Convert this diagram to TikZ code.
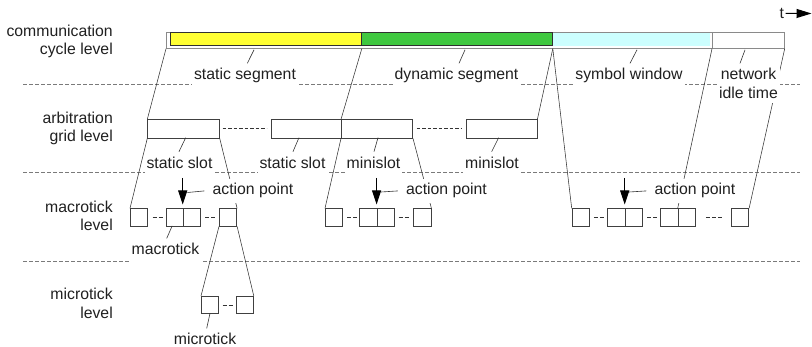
\documentclass[tikz,border=0pt]{standalone}
\usepackage{fontspec}
\setmainfont{Liberation Sans}
\usetikzlibrary{arrows.meta,calc}
\definecolor{segyellow}{HTML}{FFFF33}
\definecolor{seggreen}{HTML}{40C840}
\definecolor{segcyan}{HTML}{CCFFFF}
\definecolor{barline}{HTML}{303030}
\definecolor{framegray}{HTML}{8A8A8A}
\definecolor{sepgray}{HTML}{7A7A7A}
\definecolor{inkgray}{HTML}{202020}
\begin{document}
\begin{tikzpicture}[x=1pt,y=-1pt,
  txt/.style={font=\fontsize{15.8}{18.3}\selectfont, text=inkgray},
  lvl/.style={txt, align=right, anchor=base east, inner sep=0pt},
  lbl/.style={txt, fill=white, inner xsep=2pt, inner ysep=5pt, anchor=base},
  frame/.style={draw=framegray, line width=0.7pt, inner sep=0pt, anchor=north west},
  seg/.style={draw=barline, line width=0.8pt, inner sep=0pt, anchor=north west, minimum height=12.8pt},
  abox/.style={draw=black!75, line width=0.7pt, inner sep=0pt, anchor=north west, minimum height=18.4pt},
  mbox/.style={draw=black!75, line width=0.7pt, inner sep=0pt, anchor=north west, minimum width=17.4pt, minimum height=17.4pt},
  sep/.style={draw=sepgray, line width=0.8pt, dash pattern=on 4pt off 2pt},
  gapdash/.style={draw=black!80, line width=0.8pt, dash pattern=on 4pt off 2pt},
  griddash/.style={draw=black!80, line width=0.8pt, dash pattern=on 3.5pt off 2pt},
  link/.style={draw=black!80, line width=0.55pt},
  ptr/.style={draw=black!80, line width=0.6pt},
  aparrow/.style={draw=black, line width=1pt, -{Triangle[length=14pt,width=9pt]}},
  tarrow/.style={draw=black, line width=1pt, -{Triangle[length=15pt,width=9pt]}},
]
\useasboundingbox (0,0) rectangle (812,347);

% ---------- separators ----------
\coordinate (s1l) at (23,84);    \coordinate (s1r) at (800,84);
\coordinate (s2l) at (23,172.3); \coordinate (s2r) at (800,172.3);
\coordinate (s3l) at (23,261.7); \coordinate (s3r) at (800,261.7);
\draw[sep] (s1l) -- (s1r);
\draw[sep] (s2l) -- (s2r);
\draw[sep] (s3l) -- (s3r);

% ---------- level names (anchor = baseline of last line) ----------
\node[lvl] (lv1) at (113,55) {communication\\cycle level};
\node[lvl] (lv2) at (113,141.6) {arbitration\\grid level};
\node[lvl] (lv3) at (113,231) {macrotick\\level};
\node[lvl] (lv4) at (113,318.3) {microtick\\level};

% ---------- time arrow ----------
\node[txt, anchor=base, inner sep=0pt] (tlab) at (781.7,18.5) {t};
\coordinate (tend) at (811.5,13.5);
\draw[tarrow] ([xshift=1.5pt]tlab.east) -- (tend);

% ---------- communication cycle ----------
\node[frame, minimum width=618pt, minimum height=16.2pt] (cyc) at (166,31.8) {};
\node[inner sep=0pt, fill=segcyan, anchor=north west, minimum width=157.5pt, minimum height=12.8pt] (cs) at (552.5,32.6) {};
\node[seg, fill=segyellow, minimum width=191.5pt] (ys) at (169.5,32.4) {};
\node[seg, fill=seggreen, minimum width=191pt] (gs) at (361,32.4) {};
\node[frame, minimum width=72pt, minimum height=16.2pt] (nit) at (712,31.8) {};

% ---------- arbitration grid ----------
\node[abox, minimum width=71.7pt] (a1) at (147.3,119.3) {};
\node[abox, minimum width=70.3pt] (a2) at (270.7,119.3) {};
\node[abox, minimum width=71.3pt] (a3) at (341,119.3) {};
\node[abox, minimum width=71pt] (a4) at (465.7,119.3) {};
\draw[griddash] ([xshift=3pt]a1.east) -- ([xshift=-4pt]a2.west);
\draw[griddash] ([xshift=3.5pt]a3.east) -- ([xshift=-5pt]a4.west);

% ---------- macroticks ----------
\node[mbox] (m1a) at (130,208.3) {};
\node[mbox] (m1b) at (165.6,208.3) {};
\node[mbox] (m1c) at (183,208.3) {};
\node[mbox] (m1d) at (219,208.3) {};
\node[mbox] (m2a) at (325,208.3) {};
\node[mbox] (m2b) at (359.2,208.3) {};
\node[mbox] (m2c) at (376.6,208.3) {};
\node[mbox] (m2d) at (413.3,208.3) {};
\node[mbox] (m3a) at (571.7,208.3) {};
\node[mbox] (m3b) at (607.3,208.3) {};
\node[mbox] (m3c) at (624.7,208.3) {};
\node[mbox] (m3d) at (660.3,208.3) {};
\node[mbox] (m3e) at (677.7,208.3) {};
\node[mbox] (m3f) at (731,208.3) {};
\draw[gapdash] ([xshift=4.5pt]m1a.east) -- ++(10,0);
\draw[gapdash] ([xshift=4pt]m1c.east) -- ++(10,0);
\draw[gapdash] ([xshift=4pt]m2a.east) -- ++(10,0);
\draw[gapdash] ([xshift=4pt]m2c.east) -- ++(10,0);
\draw[gapdash] ([xshift=4pt]m3a.east) -- ++(10,0);
\draw[gapdash] ([xshift=4.5pt]m3c.east) -- ++(10,0);
\draw[gapdash] ([xshift=10pt]m3e.east) -- ++(16,0);

% ---------- microticks ----------
\node[mbox] (u1) at (201,296) {};
\node[mbox] (u2) at (235.7,296) {};
\draw[gapdash] ([xshift=3.6pt]u1.east) -- ++(10,0);

% ---------- expansion lines ----------
\draw[link] (cyc.south west) -- (a1.north west);
\draw[link] (ys.south east |- cyc.south) -- (a3.north west);
\draw[link] (gs.south east |- cyc.south) -- (a4.north east);
\draw[link] (gs.south east |- cyc.south) -- (m3a.north west);
\draw[link] (nit.south west) -- (m3e.north west);
\draw[link] (nit.south east) -- (m3f.north east);
\draw[link] (a1.south west) -- (m1a.north west);
\draw[link] (a1.south east) -- (m1d.north east);
\draw[link] (a3.south west) -- (m2a.north west);
\draw[link] (a3.south east) -- (m2d.north east);
\draw[link] (m1d.south west) -- (u1.north west);
\draw[link] (m1d.south east) -- (u2.north east);

% ---------- labels ----------
\node[lbl] (lss) at (245,80) {static segment};
\node[lbl] (lds) at (456.5,80) {dynamic segment};
\node[lbl] (lsw) at (629,80) {symbol window};
\node[lbl, align=center] (lnit) at (748.5,98.3) {network\\idle time};
\node[lbl] (lst1) at (179.5,168.3) {static slot};
\node[lbl] (lst2) at (292.5,168.3) {static slot};
\node[lbl] (lms1) at (373.5,168.3) {minislot};
\node[lbl] (lms2) at (492,168.3) {minislot};
\node[lbl] (lap1) at (253,195) {action point};
\node[lbl] (lap2) at (446.5,195) {action point};
\node[lbl] (lap3) at (695,195) {action point};
\node[lbl, inner ysep=8pt] (lmac) at (165.5,255) {macrotick};
\node[lbl] (lmic) at (205,345) {microtick};

% ---------- pointers ----------
\draw[ptr] ([xshift=2.3pt]lss.north) -- ++(6.7,-13.5);
\draw[ptr] ([xshift=2.5pt]lds.north) -- ++(6,-13.5);
\draw[ptr] ([xshift=1pt]lsw.north) -- ++(7,-13.5);
\draw[ptr] ([xshift=-8.5pt]lnit.north) -- ++(5,-13.5);
\draw[ptr] ([xshift=-0.5pt]lst1.north) -- ++(6.7,-14);
\draw[ptr] ([xshift=0.5pt]lst2.north) -- ++(6,-14);
\draw[ptr] ([xshift=0.5pt]lms1.north) -- ++(4,-14);
\draw[ptr] ([xshift=-0.3pt]lms2.north) -- ++(7,-14);
\draw[ptr] ([xshift=1.2pt,yshift=-3pt]lmac.north) -- ++(5.5,-12.5);
\draw[ptr] ([xshift=1.7pt]lmic.north) -- ++(3.3,-15);

% ---------- action points ----------
\coordinate (ap1t) at (182.7,178); \coordinate (ap1b) at (182.7,204.5);
\coordinate (ap2t) at (376.6,178); \coordinate (ap2b) at (376.6,204.5);
\coordinate (ap3t) at (624.7,178); \coordinate (ap3b) at (624.7,204.5);
\draw[aparrow] (ap1t) -- (ap1b);
\draw[aparrow] (ap2t) -- (ap2b);
\draw[aparrow] (ap3t) -- (ap3b);
\coordinate (ld1) at (187.5,192.5);
\coordinate (ld2) at (381.2,192);
\coordinate (ld3) at (629.2,192);
\draw[ptr] ([xshift=-6pt]lap1.west) -- (ld1);
\draw[ptr] ([xshift=-6pt]lap2.west) -- (ld2);
\draw[ptr] ([xshift=-6pt]lap3.west) -- (ld3);
\end{tikzpicture}
\end{document}
